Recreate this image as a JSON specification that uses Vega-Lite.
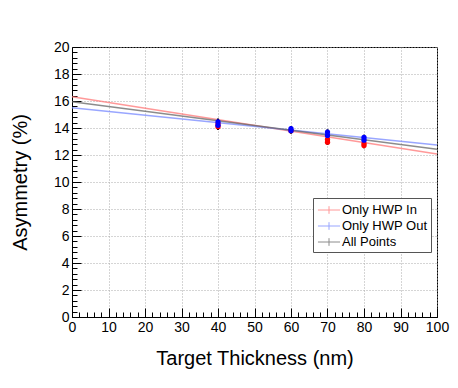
{
  "$schema": "https://vega.github.io/schema/vega-lite/v6.json",
  "width": 365,
  "height": 270,
  "autosize": "none",
  "padding": {"left": 72, "top": 47, "right": 21, "bottom": 71},
  "background": "white",
  "config": {
    "font": "Liberation Sans",
    "view": {"stroke": "black", "strokeWidth": 1},
    "axis": {
      "domainColor": "black",
      "tickColor": "black",
      "labelColor": "black",
      "titleColor": "black",
      "labelFont": "Liberation Sans",
      "titleFont": "Liberation Sans",
      "labelFontSize": 14,
      "titleFontSize": 20,
      "titleFontWeight": "normal",
      "gridColor": "#aaaaaa",
      "gridDash": [1, 2],
      "gridWidth": 1
    }
  },
  "datasets": {
    "fits": [
      {"series": "Only HWP In", "thickness": 0, "asym": 16.32},
      {"series": "Only HWP In", "thickness": 100, "asym": 12.07},
      {"series": "Only HWP Out", "thickness": 0, "asym": 15.5},
      {"series": "Only HWP Out", "thickness": 100, "asym": 12.74},
      {"series": "All Points", "thickness": 0, "asym": 15.95},
      {"series": "All Points", "thickness": 100, "asym": 12.42}
    ],
    "points": [
      {"series": "Only HWP In", "thickness": 40, "asym": 14.3, "lo": 14.05, "hi": 14.55},
      {"series": "Only HWP In", "thickness": 40, "asym": 14.1, "lo": 13.85, "hi": 14.35},
      {"series": "Only HWP In", "thickness": 60, "asym": 13.8, "lo": 13.6, "hi": 14.0},
      {"series": "Only HWP In", "thickness": 70, "asym": 13.15, "lo": 12.95, "hi": 13.35},
      {"series": "Only HWP In", "thickness": 70, "asym": 12.95, "lo": 12.75, "hi": 13.15},
      {"series": "Only HWP In", "thickness": 80, "asym": 12.85, "lo": 12.65, "hi": 13.05},
      {"series": "Only HWP In", "thickness": 80, "asym": 12.7, "lo": 12.5, "hi": 12.9},
      {"series": "Only HWP Out", "thickness": 40, "asym": 14.45, "lo": 14.2, "hi": 14.7},
      {"series": "Only HWP Out", "thickness": 40, "asym": 14.2, "lo": 13.95, "hi": 14.45},
      {"series": "Only HWP Out", "thickness": 60, "asym": 13.95, "lo": 13.75, "hi": 14.15},
      {"series": "Only HWP Out", "thickness": 60, "asym": 13.8, "lo": 13.6, "hi": 14.0},
      {"series": "Only HWP Out", "thickness": 70, "asym": 13.7, "lo": 13.5, "hi": 13.9},
      {"series": "Only HWP Out", "thickness": 70, "asym": 13.45, "lo": 13.25, "hi": 13.65},
      {"series": "Only HWP Out", "thickness": 80, "asym": 13.3, "lo": 13.1, "hi": 13.5},
      {"series": "Only HWP Out", "thickness": 80, "asym": 13.1, "lo": 12.9, "hi": 13.3}
    ]
  },
  "encoding": {
    "x": {
      "field": "thickness",
      "type": "quantitative",
      "scale": {"domain": [0, 100], "nice": false, "zero": false},
      "axis": {
        "title": "Target Thickness (nm)",
        "values": [0,2,4,6,8,10,12,14,16,18,20,22,24,26,28,30,32,34,36,38,40,42,44,46,48,50,52,54,56,58,60,62,64,66,68,70,72,74,76,78,80,82,84,86,88,90,92,94,96,98,100],
        "labelExpr": "datum.value % 10 === 0 ? datum.label : ''",
        "format": "d",
        "tickSize": {"condition": {"test": "datum.value % 10 === 0", "value": -9}, "value": -5},
        "gridOpacity": {"condition": {"test": "datum.value % 10 === 0", "value": 1}, "value": 0},
        "labelPadding": 12,
        "labelFlush": false,
        "titleY": 41,
        "titleBaseline": "middle"
      }
    },
    "y": {
      "field": "asym",
      "type": "quantitative",
      "scale": {"domain": [0, 20], "nice": false, "zero": false},
      "axis": {
        "title": "Asymmetry (%)",
        "values": [0,0.4,0.8,1.2,1.6,2,2.4,2.8,3.2,3.6,4,4.4,4.8,5.2,5.6,6,6.4,6.8,7.2,7.6,8,8.4,8.8,9.2,9.6,10,10.4,10.8,11.2,11.6,12,12.4,12.8,13.2,13.6,14,14.4,14.8,15.2,15.6,16,16.4,16.8,17.2,17.6,18,18.4,18.8,19.2,19.6,20],
        "labelExpr": "abs(datum.value/2 - round(datum.value/2)) < 0.001 ? format(datum.value, 'd') : ''",
        "tickSize": {"condition": {"test": "abs(datum.value/2 - round(datum.value/2)) < 0.001", "value": -9}, "value": -5},
        "gridOpacity": {"condition": {"test": "abs(datum.value/2 - round(datum.value/2)) < 0.001", "value": 1}, "value": 0},
        "labelPadding": 12,
        "labelFlush": false,
        "titleAngle": -90,
        "titleX": -52,
        "titleY": 135,
        "titleAlign": "center",
        "titleBaseline": "middle"
      }
    }
  },
  "layer": [
    {
      "data": {"name": "fits"},
      "mark": {"type": "line", "strokeWidth": 1.6, "opacity": 0.75},
      "encoding": {
        "color": {
          "field": "series",
          "type": "nominal",
          "scale": {
            "domain": ["Only HWP In", "Only HWP Out", "All Points"],
            "range": ["#ff7777", "#7788ff", "#666666"]
          },
          "legend": {
            "title": null,
            "orient": "none",
            "legendX": 241,
            "legendY": 151,
            "fillColor": "white",
            "strokeColor": "#555555",
            "padding": 3,
            "labelFont": "Liberation Sans",
            "labelFontSize": 13,
            "labelColor": "black",
            "symbolType": "M-1.3,0H1.3M0,-0.45V0.45",
            "symbolSize": 289,
            "symbolStrokeWidth": 1,
            "symbolOffset": 4,
            "labelOffset": 4,
            "rowPadding": 0
          }
        }
      }
    },
    {
      "data": {"name": "points"},
      "mark": {"type": "rule", "strokeWidth": 2, "color": "black"},
      "encoding": {
        "y": {"field": "lo", "type": "quantitative"},
        "y2": {"field": "hi"}
      }
    },
    {
      "data": {"name": "points"},
      "mark": {"type": "point", "shape": "circle", "filled": true, "size": 28, "opacity": 1},
      "encoding": {
        "fill": {
          "field": "series",
          "type": "nominal",
          "scale": {"domain": ["Only HWP In", "Only HWP Out"], "range": ["#ff0000", "#0000ff"]},
          "legend": null
        }
      }
    }
  ],
  "resolve": {"scale": {"fill": "independent"}}
}
